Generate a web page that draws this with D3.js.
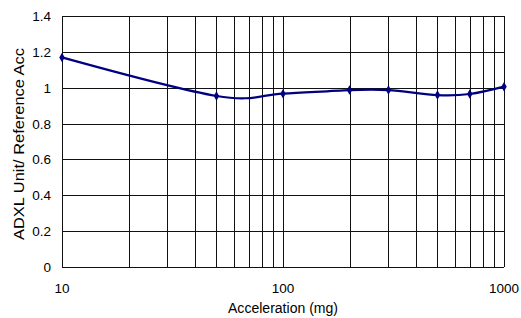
<!DOCTYPE html>
<html>
<head>
<meta charset="utf-8">
<script src="https://cdn.jsdelivr.net/npm/d3@7"></script>
<style>
  body { margin: 0; background: #ffffff; }
  text { font-family: "Liberation Sans", Arial, sans-serif; fill: #000; }
</style>
</head>
<body>
<div id="chart"></div>
<script>
// measured points (acceleration in mg, ratio)
var accel = [10, 50, 100, 200, 300, 500, 700, 1000];
var ratio = [1.169, 0.954, 0.967, 0.987, 0.987, 0.959, 0.965, 1.006];
var yTicks = [0, 0.2, 0.4, 0.6, 0.8, 1, 1.2, 1.4];
var xLabels = [10, 100, 1000];

var svgWidth = 521;
var svgHeight = 318;

var margin = { top: 16, right: 17, bottom: 51, left: 62 };
var width = 504 - margin.left;
var height = 267 - margin.top;

var svg = d3.select("#chart")
  .append("svg")
  .attr("width", svgWidth)
  .attr("height", svgHeight);

svg.append("rect")
  .attr("width", svgWidth)
  .attr("height", svgHeight)
  .attr("fill", "#ffffff");

var chartGroup = svg.append("g")
  .attr("transform", `translate(${margin.left}, ${margin.top})`);

var xScale = d3.scaleLog().domain([10, 1000]).range([0, width]);
var yScale = d3.scaleLinear().domain([0, 1.4]).range([height, 0]);

// vertical grid at every log step
var xGrid = [];
[10, 100].forEach(function(dec) {
  for (var k = 1; k < 10; k++) xGrid.push(dec * k);
});
xGrid.push(1000);

chartGroup.selectAll(".vgrid")
  .data(xGrid)
  .enter()
  .append("line")
  .attr("x1", d => Math.round(xScale(d)) + 0.5)
  .attr("x2", d => Math.round(xScale(d)) + 0.5)
  .attr("y1", 0)
  .attr("y2", height)
  .attr("stroke", "#111")
  .attr("stroke-width", 1);

chartGroup.selectAll(".hgrid")
  .data(yTicks)
  .enter()
  .append("line")
  .attr("x1", 0)
  .attr("x2", width)
  .attr("y1", d => Math.round(yScale(d)) + 0.5)
  .attr("y2", d => Math.round(yScale(d)) + 0.5)
  .attr("stroke", "#111")
  .attr("stroke-width", 1);

// y tick labels
chartGroup.selectAll(".ylab")
  .data(yTicks)
  .enter()
  .append("text")
  .attr("x", -11)
  .attr("y", d => yScale(d) + 5)
  .attr("text-anchor", "end")
  .attr("font-size", "13.5px")
  .text(d => d);

// x tick labels
chartGroup.selectAll(".xlab")
  .data(xLabels)
  .enter()
  .append("text")
  .attr("x", d => xScale(d))
  .attr("y", height + 26)
  .attr("text-anchor", "middle")
  .attr("font-size", "13.5px")
  .text(d => d);

// axis titles
chartGroup.append("text")
  .attr("x", xScale(100))
  .attr("y", height + 46)
  .attr("text-anchor", "middle")
  .attr("font-size", "14px")
  .attr("textLength", 110)
  .attr("lengthAdjust", "spacingAndGlyphs")
  .text("Acceleration (mg)");

chartGroup.append("text")
  .attr("transform", `translate(${-38}, ${height / 2 + 2.5}) rotate(-90)`)
  .attr("text-anchor", "middle")
  .attr("font-size", "14px")
  .attr("textLength", 192)
  .attr("lengthAdjust", "spacingAndGlyphs")
  .text("ADXL Unit/ Reference Acc");

// data line
var data = accel.map((a, i) => ({ x: a, y: ratio[i] }));

var line = d3.line()
  .x(d => xScale(d.x))
  .y(d => yScale(d.y))
  .curve(d3.curveCatmullRom.alpha(0));

chartGroup.append("path")
  .datum(data)
  .attr("d", line)
  .attr("fill", "none")
  .attr("stroke", "#000080")
  .attr("stroke-width", 2.2);

chartGroup.selectAll(".marker")
  .data(data)
  .enter()
  .append("path")
  .attr("transform", d => `translate(${xScale(d.x)}, ${yScale(d.y)})`)
  .attr("d", d3.symbol().type(d3.symbolDiamond).size(26))
  .attr("fill", "#000080");
</script>
</body>
</html>
